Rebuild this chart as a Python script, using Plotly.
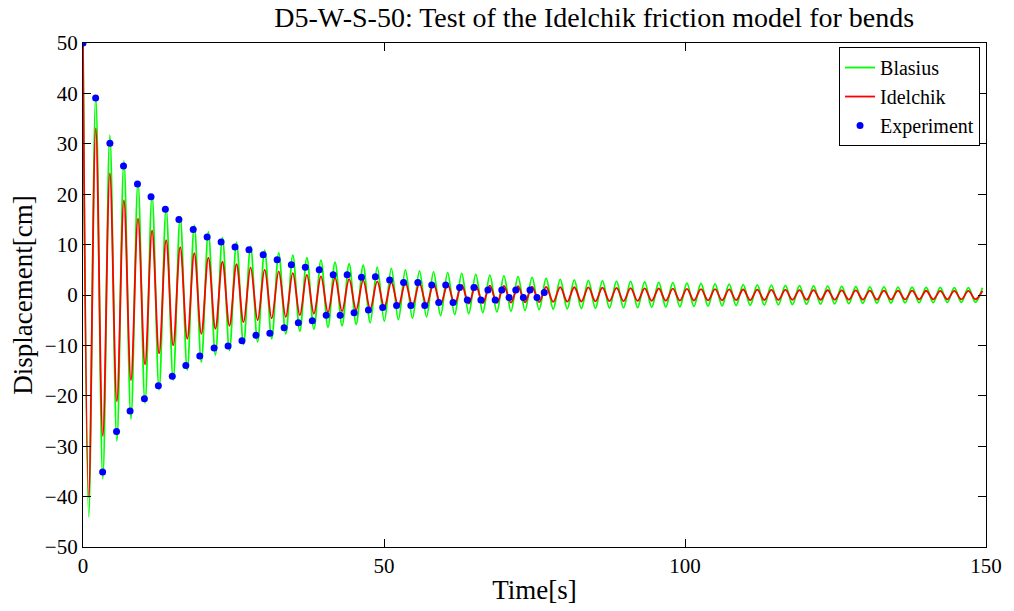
import plotly.graph_objects as go

# ---- data ----
# times of the extrema (peak, trough, peak, ...) of the simulated curves [s]
FIRST_TROUGH_T = 0.95
FIRST_PEAK_T = 2.12
HALF_PERIOD = 1.169

blasius_peaks = [50.0, 39.3, 31.7, 26.6, 22.4, 19.8, 17.2, 15.6, 13.8, 12.5,
                 11.4, 10.5, 9.7, 8.9, 8.35, 7.9, 7.4, 6.9, 6.5, 6.2,
                 5.9, 5.55, 5.3, 5.0, 4.8, 4.6, 4.45, 4.3, 4.1, 3.95,
                 3.8, 3.65, 3.5, 3.3, 3.1, 3.0, 2.9, 2.85, 2.75, 2.7,
                 2.6, 2.5, 2.45, 2.35, 2.3, 2.2, 2.15, 2.05, 2.0, 1.95,
                 1.9, 1.85, 1.8, 1.75, 1.7, 1.65, 1.62, 1.6, 1.57, 1.55,
                 1.52, 1.5, 1.48, 1.46, 1.44]
blasius_troughs = [-44.0, -36.5, -29.0, -24.6, -21.4, -18.8, -16.9, -14.9, -13.3, -11.9,
                   -11.0, -9.8, -9.3, -8.7, -7.7, -7.2, -6.8, -6.4, -6.1, -5.8,
                   -5.5, -5.2, -4.9, -4.6, -4.35, -4.1, -3.9, -3.7, -3.5, -3.35,
                   -3.2, -3.05, -2.9, -2.8, -2.75, -2.7, -2.65, -2.6, -2.55, -2.5,
                   -2.45, -2.4, -2.33, -2.27, -2.2, -2.15, -2.1, -2.05, -2.0, -1.95,
                   -1.9, -1.85, -1.8, -1.75, -1.7, -1.66, -1.62, -1.59, -1.56, -1.53,
                   -1.5, -1.47, -1.45, -1.43]

idelchik_peaks = [50.0, 33.1, 24.2, 18.8, 15.2, 12.8, 10.9, 9.5, 8.3, 7.4,
                  6.6, 6.1, 5.5, 5.05, 4.7, 4.35, 4.0, 3.7, 3.4, 3.15,
                  2.9, 2.7, 2.5, 2.4, 2.3, 2.2, 2.1, 2.0, 1.93, 1.86,
                  1.8, 1.74, 1.68, 1.63, 1.58, 1.54, 1.5, 1.46, 1.42, 1.38,
                  1.33, 1.29, 1.25, 1.21, 1.18, 1.15, 1.12, 1.09, 1.06, 1.03,
                  1.0, 0.98, 0.96, 0.94, 0.92, 0.9, 0.88, 0.87, 0.86, 0.85,
                  0.84, 0.83, 0.82, 0.81, 0.8]
idelchik_troughs = [-40.1, -28.0, -21.1, -16.9, -13.8, -11.6, -10.0, -8.7, -7.7, -6.7,
                    -6.1, -5.4, -5.0, -4.65, -4.35, -4.0, -3.7, -3.4, -3.2, -2.95,
                    -2.75, -2.45, -2.2, -2.05, -1.95, -1.85, -1.77, -1.7, -1.63, -1.57,
                    -1.51, -1.46, -1.41, -1.37, -1.33, -1.29, -1.26, -1.23, -1.2, -1.17,
                    -1.15, -1.13, -1.11, -1.09, -1.07, -1.05, -1.03, -1.01, -0.99, -0.97,
                    -0.96, -0.95, -0.94, -0.93, -0.92, -0.91, -0.9, -0.89, -0.88, -0.87,
                    -0.86, -0.85, -0.85, -0.84]

exp_max_t = [0.0, 2.10, 4.47, 6.73, 9.05, 11.30, 13.68, 15.93, 18.31, 20.62,
             22.94, 25.25, 27.57, 29.93, 32.25, 34.61, 36.93, 39.24, 41.56, 43.88,
             46.26, 48.57, 50.94, 53.25, 55.62, 57.93, 60.25, 62.56, 64.94, 67.26,
             69.57, 71.89, 74.25, 76.62]
exp_max_y = [50.0, 39.1, 30.1, 25.6, 22.0, 19.5, 17.0, 15.0, 13.0, 11.5,
             10.5, 9.5, 9.0, 8.0, 7.0, 6.0, 5.5, 5.0, 4.0, 4.0,
             3.5, 3.6, 3.0, 2.5, 2.5, 2.0, 2.0, 1.5, 1.5, 1.0,
             1.0, 1.0, 1.0, 0.5]
exp_min_t = [3.26, 5.57, 7.82, 10.20, 12.52, 14.83, 17.08, 19.40, 21.78, 24.10,
             26.41, 28.73, 31.04, 33.41, 35.77, 38.09, 40.40, 42.72, 45.03, 47.41,
             49.78, 52.09, 54.46, 56.77, 59.09, 61.47, 63.84, 66.10, 68.47, 70.78,
             73.15, 75.41]
exp_min_y = [-35.1, -27.1, -23.0, -20.6, -18.0, -16.1, -14.0, -12.1, -10.5, -10.1,
             -9.1, -8.0, -7.6, -6.5, -5.5, -5.1, -4.0, -4.0, -3.5, -3.0,
             -2.5, -2.1, -2.1, -2.1, -1.5, -1.5, -1.0, -1.0, -1.0, -0.5,
             -0.5, -0.5]

x_ticks = [0, 50, 100, 150]
y_ticks = [-50, -40, -30, -20, -10, 0, 10, 20, 30, 40, 50]


def interleave(peaks, troughs):
    out = []
    for i, p in enumerate(peaks):
        out.append(p)
        if i < len(troughs):
            out.append(troughs[i])
    return out


n_ext = len(blasius_peaks) + len(blasius_troughs)
t_ext = [0.0, FIRST_TROUGH_T] + [FIRST_PEAK_T + HALF_PERIOD * k for k in range(n_ext - 2)]

blasius = interleave(blasius_peaks, blasius_troughs)
idelchik = interleave(idelchik_peaks, idelchik_troughs)

FONT = "Liberation Serif"

fig = go.Figure()
fig.add_trace(go.Scatter(x=t_ext, y=blasius, mode="lines", name="Blasius",
                         line=dict(color="#00ff00", width=1.8, shape="spline", smoothing=1.0)))
fig.add_trace(go.Scatter(x=t_ext, y=idelchik, mode="lines", name="Idelchik",
                         line=dict(color="#ff0000", width=1.8, shape="spline", smoothing=1.0)))
fig.add_trace(go.Scatter(x=exp_max_t + exp_min_t, y=exp_max_y + exp_min_y, mode="markers",
                         name="Experiment", marker=dict(color="#0000ff", size=7)))

axis_common = dict(showline=True, linecolor="black", linewidth=1.2, mirror="ticks",
                   ticks="inside", ticklen=8, tickwidth=1, tickcolor="black",
                   showgrid=False, zeroline=False,
                   tickfont=dict(family=FONT, size=21, color="black"))

fig.update_layout(
    width=1014, height=611,
    margin=dict(l=83, r=24, t=43, b=59),
    paper_bgcolor="white", plot_bgcolor="white",
    title=dict(text="D5-W-S-50: Test of the Idelchik friction model for bends",
               x=0.586, xanchor="center", y=0.972, yanchor="middle",
               font=dict(family=FONT, size=28, color="black")),
    xaxis=dict(range=[0, 150], tickvals=x_ticks,
               title=dict(text="Time[s]", font=dict(family=FONT, size=27, color="black"), standoff=2),
               **axis_common),
    yaxis=dict(range=[-50, 50], tickvals=y_ticks,
               title=dict(text="Displacement[cm]", font=dict(family=FONT, size=27, color="black"), standoff=4),
               **axis_common),
    legend=dict(x=0.9934, y=0.992, xanchor="right", yanchor="top",
                bgcolor="white", bordercolor="black", borderwidth=1,
                font=dict(family=FONT, size=20, color="black"),
                tracegroupgap=0, itemwidth=30),
    showlegend=True,
)

fig.write_html("out.html")
